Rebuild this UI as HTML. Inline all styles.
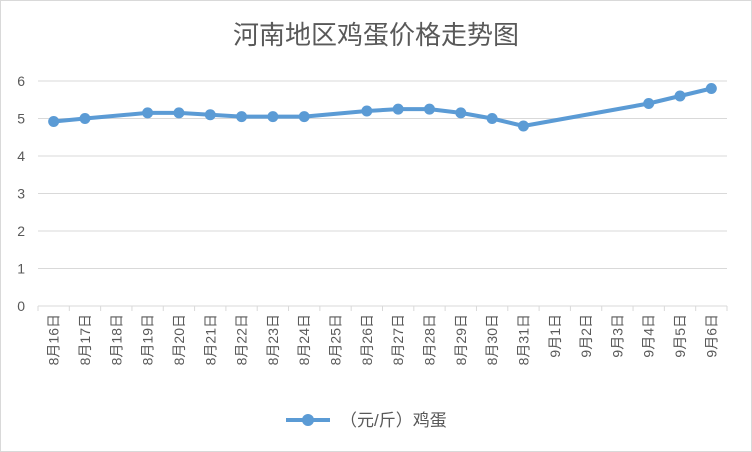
<!DOCTYPE html>
<html><head><meta charset="utf-8"><style>
body{margin:0;background:#fff}
svg{display:block;font-family:"Liberation Sans","Noto Sans CJK SC",sans-serif}
</style></head><body>
<svg id="c" width="752" height="452">
<rect x="0.5" y="0.5" width="751" height="451" fill="#fff" stroke="#d9d9d9"/>
<text x="376" y="44" text-anchor="middle" font-size="26" fill="#595959">河南地区鸡蛋价格走势图</text>
<g id="grid"></g><g id="xl"></g><g id="ser"></g>
<g>
<line x1="286" y1="420" x2="330" y2="420" stroke="#5b9bd5" stroke-width="4"/>
<circle cx="308" cy="420" r="6" fill="#5b9bd5"/>
<text x="340" y="426" font-size="17" fill="#595959">（元/斤）鸡蛋</text>
</g>
</svg>
<script>
const categories=["8月16日","8月17日","8月18日","8月19日","8月20日","8月21日","8月22日","8月23日","8月24日","8月25日","8月26日","8月27日","8月28日","8月29日","8月30日","8月31日","9月1日","9月2日","9月3日","9月4日","9月5日","9月6日"];
const prices=[4.92,5.0,null,5.15,5.15,5.1,5.05,5.05,5.05,null,5.2,5.25,5.25,5.15,5.0,4.8,null,null,null,5.4,5.6,5.8];
const yTicks=[0,1,2,3,4,5,6];
const NS="http://www.w3.org/2000/svg";
const x0=38,x1=727,y0=306,yTop=81,yMax=6;
const step=(x1-x0)/categories.length;
const xs=i=>x0+step*(i+0.5);
const ys=v=>y0-(v/yMax)*(y0-yTop);
function mk(t,a,p){const e=document.createElementNS(NS,t);for(const k in a)e.setAttribute(k,a[k]);p.appendChild(e);return e;}
const g=document.getElementById('grid');
yTicks.forEach(v=>{
 const l=mk('line',{x1:x0,x2:x1,y1:ys(v),y2:ys(v),stroke:'#d9d9d9'},g);
 
 
 const t=mk('text',{x:25,y:ys(v)+5,'text-anchor':'end','font-size':14,fill:'#595959'},g);
 t.textContent=v;
 
 
});
for(let i=0;i<=categories.length;i++){
 const l=mk('line',{x1:x0+step*i,x2:x0+step*i,y1:y0,y2:y0+5,stroke:'#d9d9d9'},g);
 
 
}
const xl=document.getElementById('xl');
categories.forEach((c,i)=>{
 const t=mk('text',{transform:`translate(${xs(i)+5},314) rotate(-90)`,'text-anchor':'end','font-size':14,fill:'#595959'},xl);
 t.textContent=c;
 
 
});
const s=document.getElementById('ser');
const pts=[];prices.forEach((v,i)=>{if(v!=null)pts.push([xs(i),ys(v)]);});
const pl=mk('polyline',{points:pts.map(p=>p.join(',')).join(' '),fill:'none',stroke:'#5b9bd5','stroke-width':4,'stroke-linejoin':'round'},s);


prices.forEach((v,i)=>{if(v==null)return;
 const c=mk('circle',{cx:xs(i),cy:ys(v),r:5.5,fill:'#5b9bd5'},s);
 
 
});
</script>
</body></html>
